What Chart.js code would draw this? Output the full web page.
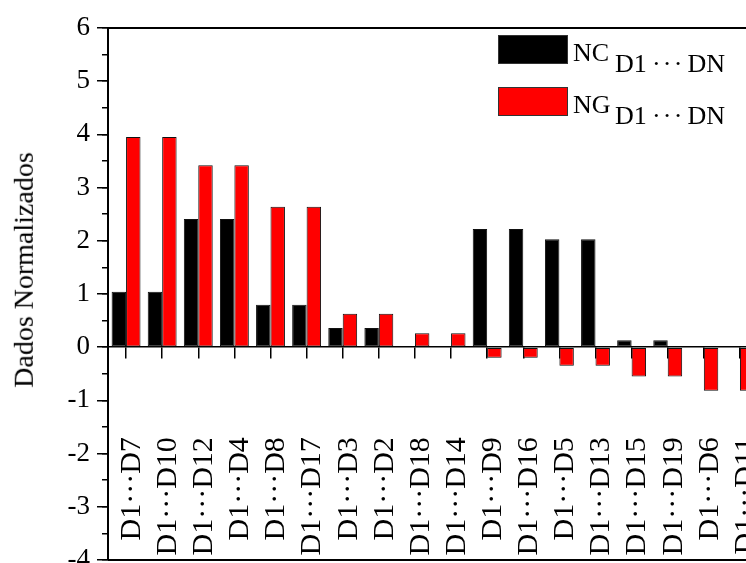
<!DOCTYPE html>
<html>
<head>
<meta charset="utf-8">
<script src="https://cdn.jsdelivr.net/npm/chart.js@4.4.1/dist/chart.umd.min.js"></script>
<style>
  html, body { margin: 0; padding: 0; background: #fff; }
  #wrap { position: relative; width: 746px; height: 563px; overflow: hidden; background: #fff; }
  #c { position: absolute; left: 0; top: 0; }
  .lg-box { position: absolute; width: 68px; height: 27px; border: 1px solid #333; box-sizing: content-box; }
  .lg-txt { position: absolute; font-family: 'Liberation Serif', 'Times New Roman', serif; color: #000; line-height: 1; white-space: nowrap; }
</style>
</head>
<body>
<div id="wrap">
  <canvas id="c" width="800" height="600"></canvas>
</div>
<script>
// ---- data ----
const categories = ['D7','D10','D12','D4','D8','D17','D3','D2','D18','D14','D9','D16','D5','D13','D15','D19','D6','D11'];
const tickLabels = categories.map(d => 'D1\u00b7\u00b7\u00b7' + d);
const seriesNames = ['NC', 'NG'];
const seriesSub = 'D1\u2009\u00b7\u200a\u00b7\u200a\u00b7\u2009DN';
const ncValues = [1.04, 1.04, 2.41, 2.41, 0.80, 0.80, 0.36, 0.36, 0.02, 0.02, 2.22, 2.22, 2.03, 2.03, 0.13, 0.13, 0.02, 0.02];
const ngValues = [3.95, 3.95, 3.42, 3.42, 2.64, 2.64, 0.63, 0.63, 0.26, 0.26, -0.20, -0.20, -0.35, -0.35, -0.55, -0.55, -0.82, -0.82];
const yTicksMajor = [-4, -3, -2, -1, 0, 1, 2, 3, 4, 5, 6];
const yTitle = 'Dados Normalizados';

const SERIF = "'Liberation Serif', 'Times New Roman', serif";
const colors = ['#000000', '#ff0000'];

const framePlugin = {
  id: 'frame',
  afterDraw(chart) {
    const {ctx, chartArea: a} = chart;
    ctx.save();
    ctx.strokeStyle = '#000';
    ctx.lineWidth = 2;
    ctx.beginPath();
    ctx.moveTo(a.left, a.top); ctx.lineTo(a.right, a.top);
    ctx.lineTo(a.right, a.bottom); ctx.lineTo(a.left, a.bottom);
    ctx.stroke();
    ctx.restore();
  }
};

const chart = new Chart(document.getElementById('c'), {
  type: 'bar',
  data: {
    labels: tickLabels,
    datasets: [
      { label: seriesNames[0], data: ncValues, backgroundColor: colors[0], borderColor: '#111', borderWidth: 1, borderSkipped: false, xAxisID: 'x', yAxisID: 'y', categoryPercentage: 0.8, barPercentage: 1.0 },
      { label: seriesNames[1], data: ngValues, backgroundColor: colors[1], borderColor: '#111', borderWidth: 1, borderSkipped: false, xAxisID: 'x', yAxisID: 'y', categoryPercentage: 0.8, barPercentage: 1.0 }
    ]
  },
  options: {
    responsive: false,
    animation: false,
    devicePixelRatio: 1,
    layout: { padding: { left: 0, top: 28, right: 42, bottom: 40 } },
    plugins: { legend: { display: false }, tooltip: { enabled: false } },
    scales: {
      x: {
        type: 'category',
        position: { y: 0 },
        offset: true,
        afterFit(scale) { scale.paddingLeft = 0; scale.paddingRight = 0; },
        grid: { display: true, drawOnChartArea: false, drawTicks: true, tickLength: 11, offset: false, color: '#000', lineWidth: 1.5 },
        border: { display: true, color: '#000', width: 1.5 },
        ticks: {
          autoSkip: false, minRotation: 90, maxRotation: 90, padding: 79, labelOffset: 6,
          color: '#000', font: { family: SERIF, size: 30 }
        }
      },
      y: {
        type: 'linear',
        position: 'left',
        min: -4, max: 6,
        afterBuildTicks(scale) { scale.ticks = yTicksMajor.map(v => ({ value: v })); },
        afterFit(scale) { scale.width = 108; },
        grid: { display: true, drawOnChartArea: false, drawTicks: true, tickLength: 11, color: '#000', lineWidth: 1.5 },
        border: { display: true, color: '#000', width: 2 },
        ticks: { padding: 7, color: '#000', font: { family: SERIF, size: 27 } },
        title: { display: false, text: yTitle }
      },
      yMinor: {
        type: 'linear',
        position: { x: -0.5 },
        min: -4, max: 6,
        ticks: { display: false, stepSize: 0.5 },
        grid: { display: true, drawOnChartArea: false, drawTicks: true, tickLength: 6, color: '#000', lineWidth: 1.5 },
        border: { display: false }
      }
    }
  },
  plugins: [framePlugin]
});

// HTML overlays: legend (needs subscripts) and the y-axis title
(function overlays() {
  const wrap = document.getElementById('wrap');
  chart.data.datasets.forEach((ds, i) => {
    const dy = i * 52;
    const box = document.createElement('div');
    box.className = 'lg-box';
    box.style.left = '498px'; box.style.top = (35 + dy) + 'px';
    box.style.background = ds.backgroundColor;
    wrap.appendChild(box);
    const main = document.createElement('div');
    main.className = 'lg-txt';
    main.style.left = '573px'; main.style.top = (40 + dy) + 'px'; main.style.fontSize = '26px';
    main.textContent = ds.label;
    wrap.appendChild(main);
    const sub = document.createElement('div');
    sub.className = 'lg-txt';
    sub.style.left = '615px'; sub.style.top = (51 + dy) + 'px'; sub.style.fontSize = '26px';
    sub.textContent = seriesSub;
    wrap.appendChild(sub);
  });
  const t = document.createElement('div');
  t.className = 'lg-txt';
  t.style.fontSize = '28px';
  t.textContent = chart.options.scales.y.title.text;
  wrap.appendChild(t);
  const w = t.offsetWidth, h = t.offsetHeight;
  const cx = 23.5, cy = 270;
  t.style.left = (cx - w / 2) + 'px';
  t.style.top = (cy - h / 2) + 'px';
  t.style.transform = 'rotate(-90deg)';
})();
</script>
</body>
</html>
